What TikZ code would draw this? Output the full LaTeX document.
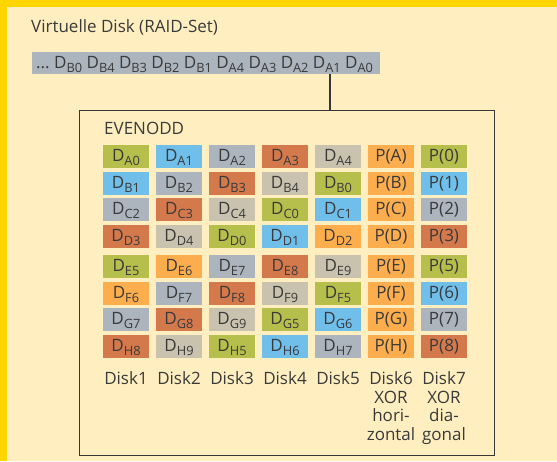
\documentclass[tikz,border=0pt]{standalone}
\usepackage{fontspec}
\setmainfont{Open Sans}
\definecolor{bandyellow}{RGB}{255,213,0}
\definecolor{cream}{RGB}{255,239,192}
\definecolor{ink}{RGB}{58,58,58}
\definecolor{framegray}{RGB}{55,55,55}
\definecolor{bargray}{RGB}{172,180,190}
\definecolor{cgreen}{RGB}{182,190,76}
\definecolor{cblue}{RGB}{112,190,234}
\definecolor{cgray}{RGB}{172,180,190}
\definecolor{cred}{RGB}{212,121,76}
\definecolor{cbeige}{RGB}{200,194,174}
\definecolor{corange}{RGB}{252,174,78}
% lowered index after a D
\newcommand\sbx[1]{\raisebox{-4.3pt}{\fontsize{12.8}{13}\selectfont #1}}
\begin{document}
\begin{tikzpicture}[x=1pt,y=-1pt,
  every node/.style={text=ink, font=\fontsize{17}{18.6}\selectfont},
  cell/.style={minimum width=46pt, minimum height=23pt, inner sep=0pt,
    text height=13pt, text depth=3pt},
  disklabel/.style={anchor=north, align=center, inner sep=0pt},
  link/.style={draw=framegray, line width=1.2pt}]
% background and yellow bands
\fill[cream] (0,0) rectangle (557,461);
\fill[bandyellow] (0,0) rectangle (557,7);
\fill[bandyellow] (0,0) rectangle (7.3,461);
\useasboundingbox (0,0) rectangle (557,461);

% virtual disk
\node[anchor=base west, inner sep=0pt] (title) at (31,32) {Virtuelle Disk (RAID-Set)};
\node[fill=bargray, minimum width=348pt, minimum height=22pt, inner sep=0pt, anchor=north west] (vdisk) at (32,52) {};
\node[anchor=base west, inner sep=0pt] (stream) at (36,68.5)
  {...\ D\sbx{B0} D\sbx{B4} D\sbx{B3} D\sbx{B2} D\sbx{B1} D\sbx{A4} D\sbx{A3} D\sbx{A2} D\sbx{A1} D\sbx{A0}};

% EVENODD frame
\node[link, minimum width=415pt, minimum height=345pt, inner sep=0pt, anchor=north west] (evenodd) at (78.5,110) {};
\node[anchor=base west, inner sep=0pt] (evlabel) at (104,134) {EVENODD};
\coordinate (tap) at (330,0);
\draw[link] (tap |- vdisk.south) -- (tap |- evenodd.north);

% row A
\node[cell,fill=cgreen]  (a1) at (126,156.5) {D\sbx{A0}};
\node[cell,fill=cblue]   (a2) at (179,156.5) {D\sbx{A1}};
\node[cell,fill=cgray]   (a3) at (232,156.5) {D\sbx{A2}};
\node[cell,fill=cred]    (a4) at (285,156.5) {D\sbx{A3}};
\node[cell,fill=cbeige]  (a5) at (338,156.5) {D\sbx{A4}};
\node[cell,fill=corange] (a6) at (391,156.5) {P(A)};
\node[cell,fill=cgreen]  (a7) at (444,156.5) {P(0)};
% row B
\node[cell,fill=cblue]   (b1) at (126,183) {D\sbx{B1}};
\node[cell,fill=cgray]   (b2) at (179,183) {D\sbx{B2}};
\node[cell,fill=cred]    (b3) at (232,183) {D\sbx{B3}};
\node[cell,fill=cbeige]  (b4) at (285,183) {D\sbx{B4}};
\node[cell,fill=cgreen]  (b5) at (338,183) {D\sbx{B0}};
\node[cell,fill=corange] (b6) at (391,183) {P(B)};
\node[cell,fill=cblue]   (b7) at (444,183) {P(1)};
% row C
\node[cell,fill=cgray]   (c1) at (126,209.5) {D\sbx{C2}};
\node[cell,fill=cred]    (c2) at (179,209.5) {D\sbx{C3}};
\node[cell,fill=cbeige]  (c3) at (232,209.5) {D\sbx{C4}};
\node[cell,fill=cgreen]  (c4) at (285,209.5) {D\sbx{C0}};
\node[cell,fill=cblue]   (c5) at (338,209.5) {D\sbx{C1}};
\node[cell,fill=corange] (c6) at (391,209.5) {P(C)};
\node[cell,fill=cgray]   (c7) at (444,209.5) {P(2)};
% row D
\node[cell,fill=cred]    (d1) at (126,236) {D\sbx{D3}};
\node[cell,fill=cbeige]  (d2) at (179,236) {D\sbx{D4}};
\node[cell,fill=cgreen]  (d3) at (232,236) {D\sbx{D0}};
\node[cell,fill=cblue]   (d4) at (285,236) {D\sbx{D1}};
\node[cell,fill=corange] (d5) at (338,236) {D\sbx{D2}};
\node[cell,fill=corange] (d6) at (391,236) {P(D)};
\node[cell,fill=cred]    (d7) at (444,236) {P(3)};
% row E
\node[cell,fill=cgreen]  (e1) at (126,266.5) {D\sbx{E5}};
\node[cell,fill=corange] (e2) at (179,266.5) {D\sbx{E6}};
\node[cell,fill=cgray]   (e3) at (232,266.5) {D\sbx{E7}};
\node[cell,fill=cred]    (e4) at (285,266.5) {D\sbx{E8}};
\node[cell,fill=cbeige]  (e5) at (338,266.5) {D\sbx{E9}};
\node[cell,fill=corange] (e6) at (391,266.5) {P(E)};
\node[cell,fill=cgreen]  (e7) at (444,266.5) {P(5)};
% row F
\node[cell,fill=corange] (f1) at (126,293) {D\sbx{F6}};
\node[cell,fill=cgray]   (f2) at (179,293) {D\sbx{F7}};
\node[cell,fill=cred]    (f3) at (232,293) {D\sbx{F8}};
\node[cell,fill=cbeige]  (f4) at (285,293) {D\sbx{F9}};
\node[cell,fill=cgreen]  (f5) at (338,293) {D\sbx{F5}};
\node[cell,fill=corange] (f6) at (391,293) {P(F)};
\node[cell,fill=cblue]   (f7) at (444,293) {P(6)};
% row G
\node[cell,fill=cgray]   (g1) at (126,319.5) {D\sbx{G7}};
\node[cell,fill=cred]    (g2) at (179,319.5) {D\sbx{G8}};
\node[cell,fill=cbeige]  (g3) at (232,319.5) {D\sbx{G9}};
\node[cell,fill=cgreen]  (g4) at (285,319.5) {D\sbx{G5}};
\node[cell,fill=cblue]   (g5) at (338,319.5) {D\sbx{G6}};
\node[cell,fill=corange] (g6) at (391,319.5) {P(G)};
\node[cell,fill=cgray]   (g7) at (444,319.5) {P(7)};
% row H
\node[cell,fill=cred]    (h1) at (126,346) {D\sbx{H8}};
\node[cell,fill=cbeige]  (h2) at (179,346) {D\sbx{H9}};
\node[cell,fill=cgreen]  (h3) at (232,346) {D\sbx{H5}};
\node[cell,fill=cblue]   (h4) at (285,346) {D\sbx{H6}};
\node[cell,fill=cgray]   (h5) at (338,346) {D\sbx{H7}};
\node[cell,fill=corange] (h6) at (391,346) {P(H)};
\node[cell,fill=cred]    (h7) at (444,346) {P(8)};

% disk captions
\node[disklabel] (k1) at (126,371.5) {Disk1};
\node[disklabel] (k2) at (179,371.5) {Disk2};
\node[disklabel] (k3) at (232,371.5) {Disk3};
\node[disklabel] (k4) at (285,371.5) {Disk4};
\node[disklabel] (k5) at (338,371.5) {Disk5};
\node[disklabel] (k6) at (391,371.5) {Disk6\\XOR\\hori-\\zontal};
\node[disklabel] (k7) at (444,371.5) {Disk7\\XOR\\dia-\\gonal};
\end{tikzpicture}
\end{document}
